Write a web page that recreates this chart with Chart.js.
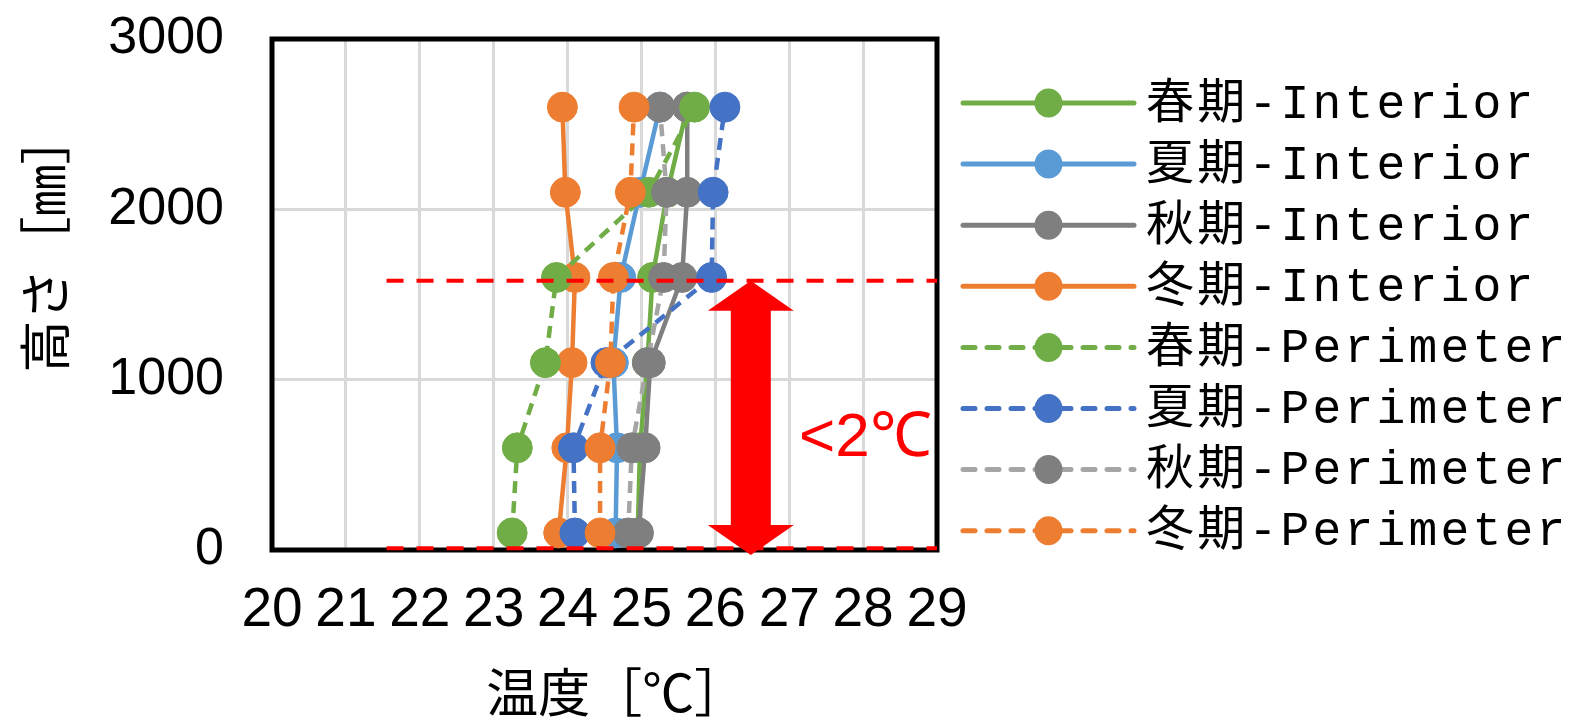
<!DOCTYPE html>
<html>
<head>
<meta charset="utf-8">
<script src="https://cdn.jsdelivr.net/npm/chart.js@4/dist/chart.umd.min.js"></script>
<style>
  html, body { margin: 0; padding: 0; background: #fff; }
  #wrap { width: 1573px; height: 719px; }
</style>
</head>
<body>
<div id="wrap"><canvas id="c" width="1573" height="719"></canvas></div>
<script>
// Measurement heights [mm]
const heights = [100, 600, 1100, 1600, 2100, 2600];

// Temperatures [°C] at each height
const springInterior  = [24.95, 24.98, 25.08, 25.15, 25.35, 25.62];
const summerInterior  = [24.65, 24.67, 24.62, 24.72, 24.98, 25.25];
const autumnInterior  = [24.96, 25.05, 25.12, 25.55, 25.62, 25.62];
const winterInterior  = [23.88, 23.99, 24.06, 24.10, 23.97, 23.93];
const springPerimeter = [23.25, 23.32, 23.70, 23.85, 25.10, 25.72];
const summerPerimeter = [24.10, 24.08, 24.52, 25.95, 25.97, 26.13];
const autumnPerimeter = [24.82, 24.87, 25.08, 25.30, 25.34, 25.25];
const winterPerimeter = [24.44, 24.44, 24.58, 24.62, 24.85, 24.90];

// Series names
const seriesLabels = [
  '春期-Interior', '夏期-Interior', '秋期-Interior', '冬期-Interior',
  '春期-Perimeter', '夏期-Perimeter', '秋期-Perimeter', '冬期-Perimeter'
];

// Axis ranges and titles
const xRange = [20, 29];
const yRange = [0, 3000];
const xTitle = '温度［℃］';
const yTitle = '高さ［㎜］';

// Annotation: band of vertical spread
const bandTop = 1580;
const bandBottom = 10;
const bandLineStart = 21.55;
const arrowX = 26.48;
const arrowTip = -30;
const bandText = '<2℃';
const bandTextPos = [28.03, 650];

const seriesValues = [
  springInterior, summerInterior, autumnInterior, winterInterior,
  springPerimeter, summerPerimeter, autumnPerimeter, winterPerimeter
];
const lineColors  = ['#70AD47', '#5B9BD5', '#7F7F7F', '#ED7D31', '#70AD47', '#4472C4', '#A5A5A5', '#ED7D31'];
const pointColors = ['#70AD47', '#5B9BD5', '#7F7F7F', '#ED7D31', '#70AD47', '#4472C4', '#7F7F7F', '#ED7D31'];

// Later series are painted over earlier ones
const datasets = seriesValues.map((vals, i) => ({
  label: seriesLabels[i],
  data: vals.map((t, k) => ({ x: t, y: heights[k] })),
  order: -i,
  showLine: true,
  borderColor: lineColors[i],
  backgroundColor: pointColors[i],
  pointBackgroundColor: pointColors[i],
  pointBorderColor: pointColors[i],
  pointBorderWidth: 1,
  pointRadius: 15,
  pointHoverRadius: 15,
  borderWidth: 4.5,
  borderDash: i >= 4 ? [12, 8] : [],
  tension: 0
}));

// Plot frame on all four sides
const framePlugin = {
  id: 'frame',
  beforeDatasetsDraw(chart) {
    const { ctx, chartArea: a } = chart;
    ctx.save();
    ctx.strokeStyle = '#000';
    ctx.lineWidth = 5;
    ctx.strokeRect(a.left, a.top, a.right - a.left, a.bottom - a.top);
    ctx.restore();
  }
};

// Red dashed guides, double arrow and label
const bandPlugin = {
  id: 'band',
  afterDatasetsDraw(chart) {
    const { ctx } = chart;
    const xs = chart.scales.x, ys = chart.scales.y;
    const red = '#FF0000';
    ctx.save();
    ctx.strokeStyle = red;
    ctx.lineWidth = 4;
    ctx.setLineDash([17, 13]);
    [bandTop, bandBottom].forEach(v => {
      const y = ys.getPixelForValue(v);
      ctx.beginPath();
      ctx.moveTo(xs.getPixelForValue(bandLineStart), y);
      ctx.lineTo(xs.getPixelForValue(xRange[1]), y);
      ctx.stroke();
    });
    ctx.setLineDash([]);
    const cx = xs.getPixelForValue(arrowX);
    const yT = ys.getPixelForValue(bandTop);
    const yB = ys.getPixelForValue(arrowTip);
    const sw = 20, hw = 43, hl = 30;
    ctx.fillStyle = red;
    ctx.beginPath();
    ctx.moveTo(cx, yT);
    ctx.lineTo(cx + hw, yT + hl);
    ctx.lineTo(cx + sw, yT + hl);
    ctx.lineTo(cx + sw, yB - hl);
    ctx.lineTo(cx + hw, yB - hl);
    ctx.lineTo(cx, yB);
    ctx.lineTo(cx - hw, yB - hl);
    ctx.lineTo(cx - sw, yB - hl);
    ctx.lineTo(cx - sw, yT + hl);
    ctx.lineTo(cx - hw, yT + hl);
    ctx.closePath();
    ctx.fill();
    ctx.font = '62px "Liberation Sans", Arial, sans-serif';
    ctx.textAlign = 'center';
    ctx.textBaseline = 'middle';
    ctx.fillText(bandText, xs.getPixelForValue(bandTextPos[0]), ys.getPixelForValue(bandTextPos[1]));
    ctx.restore();
  }
};

// Series key to the right of the plot: line + marker + name per dataset
const keyPlugin = {
  id: 'seriesKey',
  afterDraw(chart) {
    const { ctx, chartArea: a } = chart;
    const x0 = a.right + 26, x1 = a.right + 197, xm = (x0 + x1) / 2;
    const textX = a.right + 209;
    const rowTop = 103, rowStep = 61.1;
    ctx.save();
    chart.data.datasets.forEach((ds, i) => {
      const y = rowTop + i * rowStep;
      ctx.strokeStyle = ds.borderColor;
      ctx.lineWidth = 5;
      ctx.lineCap = 'round';
      ctx.setLineDash(ds.borderDash.length ? [12, 12] : []);
      ctx.beginPath();
      ctx.moveTo(x0, y);
      ctx.lineTo(x1, y);
      ctx.stroke();
      ctx.setLineDash([]);
      ctx.fillStyle = ds.pointBackgroundColor;
      ctx.beginPath();
      ctx.ellipse(xm, y, 14, 14.5, 0, 0, Math.PI * 2);
      ctx.fill();
      ctx.fillStyle = '#000';
      ctx.font = '48px "Liberation Mono", "Noto Sans CJK JP", monospace';
      ctx.letterSpacing = '3.2px';
      ctx.textAlign = 'left';
      ctx.textBaseline = 'middle';
      ctx.fillText(ds.label, textX, y + 2);
    });
    ctx.restore();
  }
};

new Chart(document.getElementById('c'), {
  type: 'scatter',
  data: { datasets },
  plugins: [framePlugin, bandPlugin, keyPlugin],
  options: {
    responsive: false,
    animation: false,
    events: [],
    layout: { padding: { top: 39, right: 636, left: 0, bottom: 0 } },
    scales: {
      x: {
        type: 'linear',
        min: xRange[0], max: xRange[1],
        afterFit(scale) { scale.height = 169; },
        ticks: {
          stepSize: 1,
          color: '#000',
          padding: 33,
          callback: v => String(v),
          font: { family: '"Liberation Sans Narrow", "Liberation Sans", sans-serif', size: 55, lineHeight: 1.0 }
        },
        grid: { color: '#D9D9D9', lineWidth: 3, drawTicks: false },
        border: { display: false },
        title: {
          display: true,
          text: '  ' + xTitle,
          color: '#000',
          font: { family: '"Noto Sans CJK JP", sans-serif', size: 52, lineHeight: 1.0 },
          padding: { top: 0, bottom: 1 }
        }
      },
      y: {
        type: 'linear',
        min: yRange[0], max: yRange[1],
        afterFit(scale) {
          scale.width = 272;
          scale.paddingTop = 0;
          scale.paddingBottom = 0;
        },
        ticks: {
          stepSize: 1000,
          color: '#000',
          padding: 48,
          callback: v => String(v),
          font: { family: '"Liberation Sans", Arial, sans-serif', size: 52 }
        },
        grid: { color: '#D9D9D9', lineWidth: 3, drawTicks: false },
        border: { display: false },
        title: {
          display: true,
          text: '\u3000\u3000' + yTitle,
          color: '#000',
          font: { family: '"Noto Sans CJK JP", sans-serif', size: 52 },
          padding: { top: 14, bottom: 0 }
        }
      }
    },
    plugins: {
      tooltip: { enabled: false },
      legend: { display: false }
    }
  }
});
</script>
</body>
</html>
